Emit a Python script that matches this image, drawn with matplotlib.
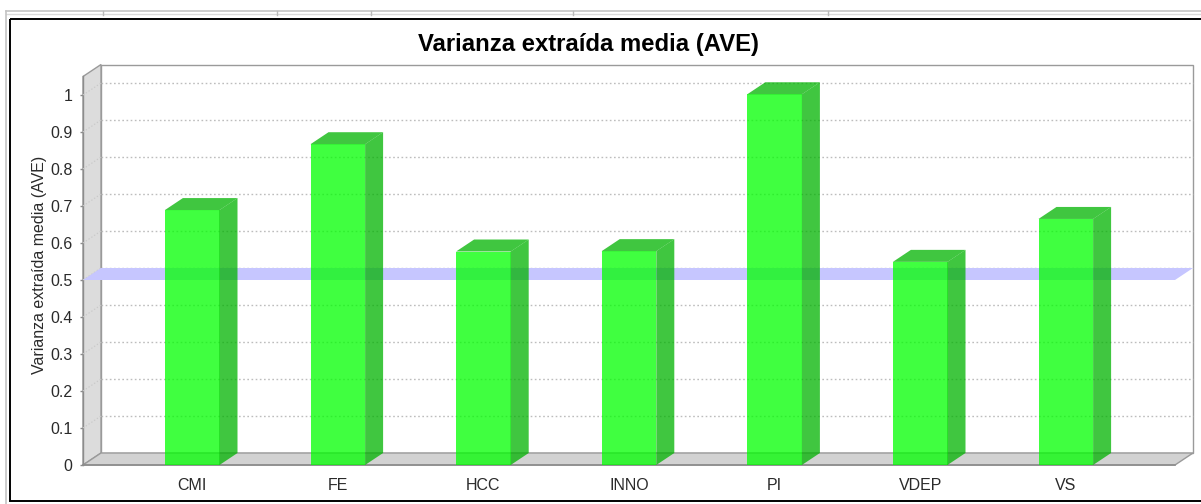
import matplotlib
matplotlib.use('Agg')
import matplotlib.pyplot as plt
from matplotlib.patches import Polygon, Rectangle
import numpy as np

plt.rcParams['font.family'] = ['Liberation Sans', 'DejaVu Sans']

# ===== data =====
categories = ['CMI', 'FE', 'HCC', 'INNO', 'PI', 'VDEP', 'VS']
ave_values = [0.689, 0.867, 0.577, 0.578, 1.002, 0.549, 0.665]
threshold = 0.5
y_ticks = [0, 0.1, 0.2, 0.3, 0.4, 0.5, 0.6, 0.7, 0.8, 0.9, 1.0]
y_tick_labels = ['0', '0.1', '0.2', '0.3', '0.4', '0.5', '0.6', '0.7', '0.8', '0.9', '1']

W, H = 1201, 504
fig = plt.figure(figsize=(W / 100, H / 100), dpi=100)
fig.patch.set_facecolor('white')

# ===== window frame (pixel coords) =====
bg = fig.add_axes([0, 0, 1, 1])
bg.set_xlim(0, W)
bg.set_ylim(H, 0)
bg.axis('off')
bg.plot([6, W], [11, 11], color='#c4c4c4', lw=1.2)
bg.plot([6, W], [14, 14], color='#dadada', lw=1.0)
for xt in [103, 277, 371, 573, 828]:
    bg.plot([xt, xt], [11, 15], color='#bbbbbb', lw=1.0)
bg.plot([6, 6], [11, H], color='#c4c4c4', lw=1.2)
bg.add_patch(Rectangle((10, 19), 1205, 482, fill=False, ec='black', lw=1.4))

# ===== plot (front plane) =====
ax = fig.add_axes([83 / W, 39 / H, 1092 / W, 388.5 / H])
xmin, xmax = -0.75, 6.75
ymax = 1.05
ax.set_xlim(xmin, xmax)
ax.set_ylim(0, ymax)
ax.patch.set_visible(False)
for s in ax.spines.values():
    s.set_visible(False)

# 3D offset in data units (18 px right, 12 px up)
dx = 18 / (1092 / (xmax - xmin))
dy = 12 / (388.5 / ymax)

# walls
back = Rectangle((xmin + dx, dy), xmax - xmin, ymax, fc='white', ec='#9a9a9a',
                 lw=1.0, clip_on=False, zorder=1)
left = Polygon([(xmin, 0), (xmin, ymax), (xmin + dx, ymax + dy), (xmin + dx, dy)],
               closed=True, fc='#dcdcdc', ec='#9a9a9a', lw=1.0, clip_on=False, zorder=1)
floor = Polygon([(xmin, 0), (xmin + dx, dy), (xmax + dx, dy), (xmax, 0)],
                closed=True, fc='#d2d2d2', ec='#9a9a9a', lw=1.0, clip_on=False, zorder=1)
for p in (back, left, floor):
    ax.add_patch(p)
ax.plot([xmin, xmax], [0, 0], color='#8c8c8c', lw=1.2, clip_on=False, zorder=1.5)
ax.plot([xmin, xmin], [0, ymax], color='#8c8c8c', lw=1.0, clip_on=False, zorder=1.5)

# gridlines on back wall + diagonal on left wall
for v in y_ticks[1:]:
    ax.plot([xmin + dx, xmax + dx], [v + dy, v + dy], color='#bdbdbd', lw=1.0,
            ls=(0, (1.2, 1.8)), clip_on=False, zorder=2)
    ax.plot([xmin, xmin + dx], [v, v + dy], color='#c8c8c8', lw=0.8,
            ls=(0, (1.2, 1.8)), clip_on=False, zorder=2)

# threshold marker band
band = Polygon([(xmin, threshold), (xmin + dx, threshold + dy),
                (xmax + dx, threshold + dy), (xmax, threshold)],
               closed=True, fc='#c6c6ff', ec='none', clip_on=False, zorder=3)
ax.add_patch(band)

# bars
x = np.arange(len(categories))
bw = 0.375
ax.bar(x, ave_values, width=bw, color=(0, 1, 0), alpha=0.75, zorder=5)
dark = (0, 0.7, 0)
for xi, v in zip(x, ave_values):
    x0, x1 = xi - bw / 2, xi + bw / 2
    side = Polygon([(x1, 0), (x1 + dx, dy), (x1 + dx, v + dy), (x1, v)],
                   closed=True, fc=dark, ec='none', alpha=0.75, clip_on=False, zorder=5)
    top = Polygon([(x0, v), (x0 + dx, v + dy), (x1 + dx, v + dy), (x1, v)],
                  closed=True, fc=dark, ec='none', alpha=0.75, clip_on=False, zorder=5)
    ax.add_patch(side)
    ax.add_patch(top)

# axes ticks / labels
ax.set_yticks(y_ticks, y_tick_labels)
ax.tick_params(axis='y', length=2, width=1, color='#8c8c8c', pad=5.5,
               labelsize=11.5, labelcolor='#2a2a2a')
ax.set_xticks(x, categories)
ax.tick_params(axis='x', length=0, pad=9, labelsize=11.5, labelcolor='#2a2a2a')
ax.set_ylabel('Varianza extraída media (AVE)', fontsize=11.5, color='#2a2a2a')
ax.yaxis.set_label_coords(-0.033, 0.515)

fig.text(588 / W, 1 - 44 / H, 'Varianza extraída media (AVE)', fontsize=17.2,
         fontweight='bold', ha='center', va='center', color='black')

fig.savefig('out.png', dpi=100, facecolor='white')
plt.close()
